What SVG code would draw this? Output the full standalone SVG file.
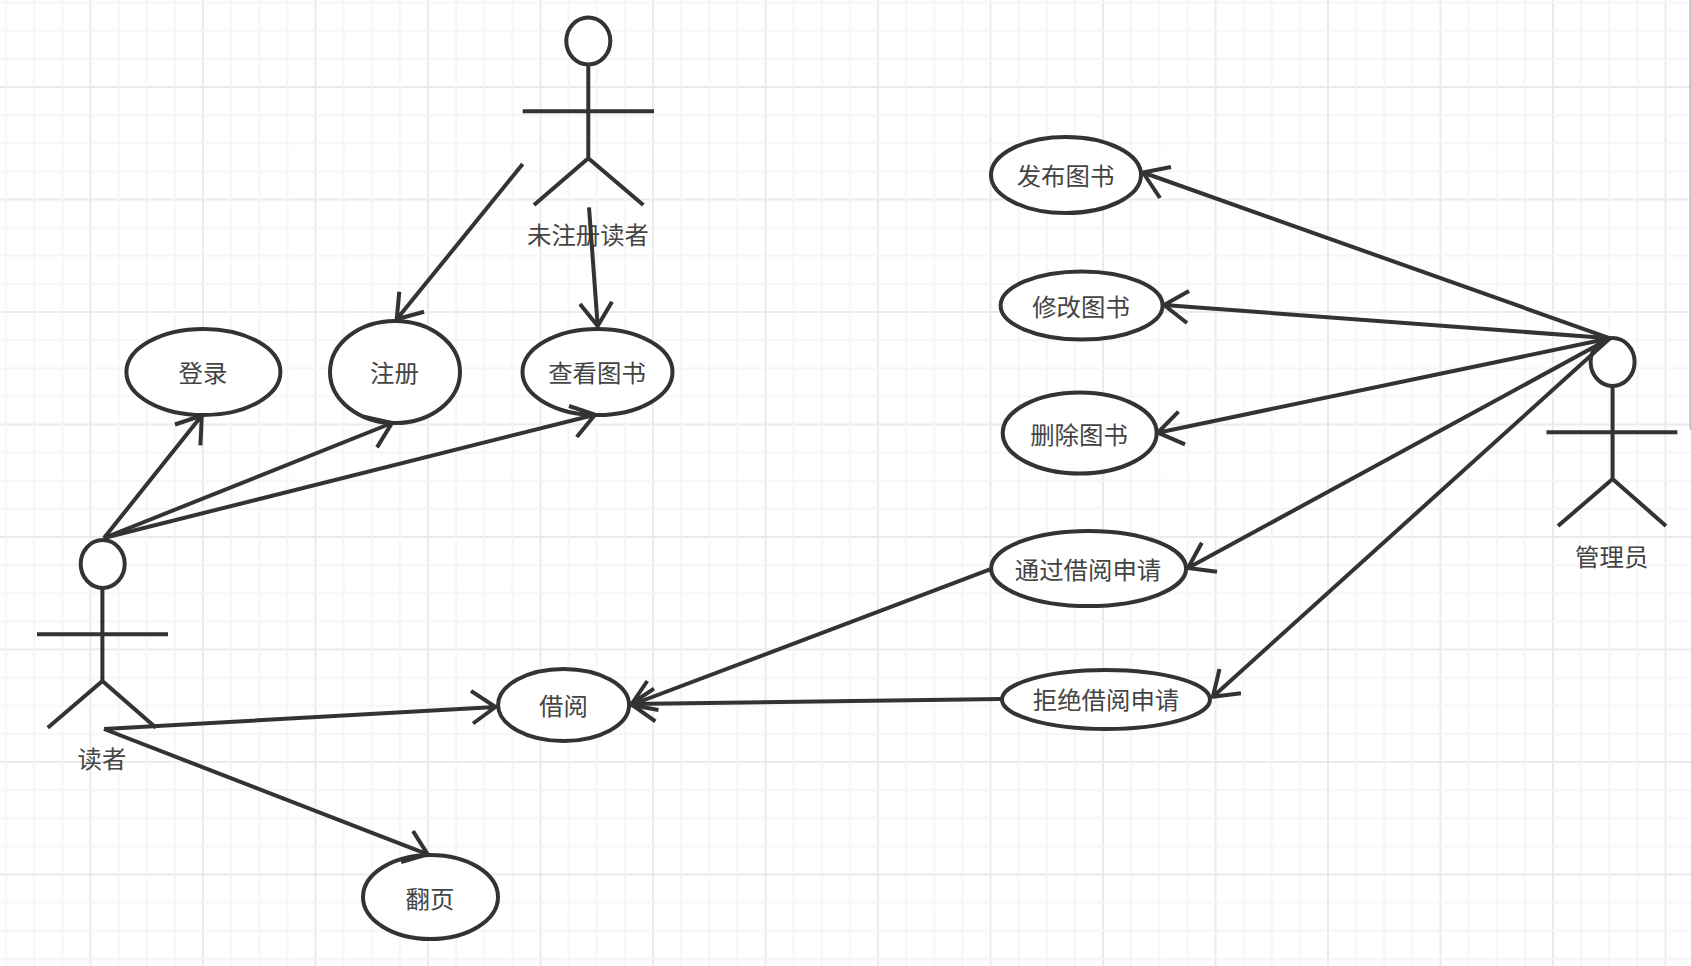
<svg xmlns="http://www.w3.org/2000/svg" width="1691" height="966" viewBox="0 0 1691 966">
<style>
.s{fill:none;stroke:#333;stroke-width:4;stroke-linecap:butt;stroke-linejoin:round}
.e{fill:#fff;stroke:#333;stroke-width:4}
.t{font-family:"Noto Sans CJK SC","Liberation Sans",sans-serif;font-size:24.4px;fill:#444;text-anchor:middle;dominant-baseline:central}
</style>
<defs>
<pattern id="grid" width="112.5" height="112.5" patternUnits="userSpaceOnUse" patternTransform="translate(89.5,86)">
<path d="M1 0V112.5M0 1H112.5" stroke="#ebebeb" stroke-width="2" fill="none"/>
<path d="M29.1 0V112.5M57.25 0V112.5M85.4 0V112.5M0 29.1H112.5M0 57.25H112.5M0 85.4H112.5" stroke="#f5f5f5" stroke-width="2" fill="none"/>
</pattern>
</defs>
<rect width="1691" height="966" fill="#fff"/>
<rect width="1691" height="966" fill="url(#grid)"/>
<path d="M1690 0V426Q1690 429 1691 430V0Z" fill="#fff" stroke="#aaa" stroke-width="1"/>
<g id="uc-login"><ellipse class="e" cx="203.4" cy="372" rx="77" ry="43"/><text class="t" x="203" y="371">登录</text></g>
<g id="uc-register"><ellipse class="e" cx="395" cy="372" rx="65" ry="51"/><text class="t" x="394.5" y="371">注册</text></g>
<g id="uc-view"><ellipse class="e" cx="597.5" cy="372" rx="75" ry="43"/><text class="t" x="597" y="371">查看图书</text></g>
<g id="uc-borrow"><ellipse class="e" cx="563.6" cy="705" rx="65.5" ry="36"/><text class="t" x="563.4" y="704">借阅</text></g>
<g id="uc-page"><ellipse class="e" cx="430.5" cy="897" rx="67.5" ry="42"/><text class="t" x="430" y="897.5">翻页</text></g>
<g id="uc-publish"><ellipse class="e" cx="1066" cy="175" rx="75" ry="38"/><text class="t" x="1065.5" y="174">发布图书</text></g>
<g id="uc-edit"><ellipse class="e" cx="1081.6" cy="305.5" rx="81" ry="34"/><text class="t" x="1081" y="305">修改图书</text></g>
<g id="uc-delete"><ellipse class="e" cx="1079.7" cy="433" rx="77" ry="40.5"/><text class="t" x="1079" y="433">删除图书</text></g>
<g id="uc-approve"><ellipse class="e" cx="1088.6" cy="568.5" rx="97.5" ry="37.5"/><text class="t" x="1088" y="568.5">通过借阅申请</text></g>
<g id="uc-reject"><ellipse class="e" cx="1106" cy="699.5" rx="104" ry="29.5"/><text class="t" x="1106" y="698.5">拒绝借阅申请</text></g>
<g id="actor-reader"><ellipse class="e" cx="102.7" cy="564" rx="22" ry="24"/><path class="s" d="M102.4 588V681M37 634.3H168M47.8 727.8L102.4 681L156 727.8"/><text class="t" x="102" y="757">读者</text></g>
<g id="actor-guest"><ellipse class="e" cx="588.3" cy="41" rx="22" ry="23.5"/><path class="s" d="M588.3 65V158.3M522.7 111.3H654M534 205L588.3 158.3L643.3 205"/><text class="t" x="588" y="233">未注册读者</text></g>
<g id="actor-admin"><ellipse class="e" cx="1612.6" cy="362" rx="22" ry="24"/><path class="s" d="M1612.6 386V479M1546.5 432.3H1677.4M1558 526L1612.6 479L1666 526"/><text class="t" x="1611.7" y="555">管理员</text></g>
<g id="connectors" class="s">
<path d="M104 538L201.8 415.5M175 424.5L201.8 415.5L200.4 445.3"/>
<path d="M104 538L392 423M363.8 416.8L392 423L377 447.4"/>
<path d="M104 538L595 414.7M569 406L595 414.7L576.8 437"/>
<path d="M104 729L495.5 707M471 690.8L495.5 707L473 723.5"/>
<path d="M104 729L427.7 854.4M413 831L427.7 854.4L401 862"/>
<path d="M522.7 164L396.7 319.3M424 311.7L396.7 319.3L399.3 291.7"/>
<path d="M589 207.3L597.7 326M580 304L597.7 326L612 301.7"/>
<path d="M1610 338.3L1143 172.5M1171 167L1143 172.5L1160 198"/>
<path d="M1610 338.3L1164 305M1189 291L1164 305L1187 323"/>
<path d="M1610 338.3L1157.8 432.7M1178.5 411.7L1157.8 432.7L1185 444.3"/>
<path d="M1610 338.3L1188 568M1201.8 542.7L1188 568L1217 571.7"/>
<path d="M1610 338.3L1212.9 696.7M1219.5 669L1212.9 696.7L1241 693.3"/>
<path d="M990 569.4L631 705M647.3 681L631 705L658.5 710"/>
<path d="M1000.8 699L631 704M654 688.7L631 704L655.4 721.4"/>
</g>
</svg>
